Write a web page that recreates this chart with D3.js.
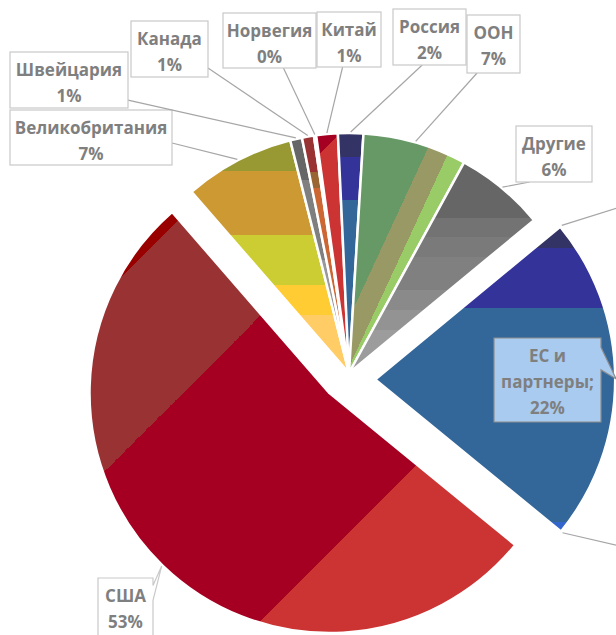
<!DOCTYPE html>
<html><head><meta charset="utf-8">
<script src="https://cdn.jsdelivr.net/npm/d3@7"></script>
<style>html,body{margin:0;padding:0;background:#fff;}svg{display:block}</style>
</head><body>
<svg id="chart" width="616" height="635"></svg>
<script>
// ---------- DATA ----------
const categories = ["Великобритания","Швейцария","Канада","Норвегия","Китай","Россия","ООН","Другие","ЕС и партнеры","США"];
const values = [7.45, 0.8, 0.8, 0.15, 1.45, 1.7, 7.0, 6.05, 21.9, 52.7];

// ---------- STYLE / LAYOUT ----------
const C = [349, 373], R = 240, startDeg = -41;
const explode = {"ЕС и партнеры": {dist: 27, angle: 104}, "США": {dist: 28}};
// banded gradient fills: u = direction, from = start projection, bands = [colour, end projection]
const fills = {
  "Великобритания": {u:[0,1], from:130, bands:[["#999933",171],["#CC9933",235],["#CCCC33",285],["#FFCC33",315],["#FFCC66",380]]},
  "Швейцария": {u:[0,1], from:130, bands:[["#666666",180],["#7F7F7F",260],["#999999",380]]},
  "Канада": {u:[0,1], from:130, bands:[["#993333",172],["#996633",188],["#CC6633",380]]},
  "Норвегия": {u:[0,1], from:130, bands:[["#993333",380]]},
  "Китай": {u:[1,1], from:440, bands:[["#A50021",474],["#CC3333",760]]},
  "Россия": {u:[0,1], from:130, bands:[["#333366",157],["#333399",200],["#336699",380]]},
  "ООН": {u:[0.905,0.42], from:300, bands:[["#669966",449.5],["#999966",470],["#99CC66",600]]},
  "Другие": {u:[0,1], from:180, bands:[["#666666",218],["#737373",237],["#7A7A7A",257],["#808080",290],["#8A8A8A",310],["#939393",330],["#9C9C9C",380]]},
  "ЕС и партнеры": {u:[0,1], from:220, bands:[["#333366",248],["#333399",308],["#336699",522],["#3366CC",625]]},
  "США": {u:[1,1], from:370, bands:[["#990000",398],["#993333",576],["#A50021",882],["#CC3333",1100]]}
};
// label boxes [x,y,w,h], attach point as fraction of box, type
const labelBoxes = {
  "Великобритания": {box:[10,110,162,55], at:[1,0.6]},
  "Швейцария": {box:[10,52,118,56], at:[1,0.86]},
  "Канада": {box:[131,21,77,56], at:[1,0.84]},
  "Норвегия": {box:[223,13,93,55], at:[0.65,1]},
  "Китай": {box:[317,12,64,55], at:[0.4,1]},
  "Россия": {box:[393,9,73,56], at:[0.4,1]},
  "ООН": {box:[467,15,53,58], at:[0.19,1]},
  "Другие": {box:[516,126,76,56], at:[0.18,1]},
  "США": {box:[98,578,55,62], callout:[[1,0.12],[1,0.36]]},
  "ЕС и партнеры": {box:[494,338,107,84], callout:[[1,0.11],[1,0.38]], fill:"#A9CBEF", stroke:"#8C8C8C", lines:["ЕС и","партнеры;"]}
};
const extraLeaders = [{name:"ЕС и партнеры", at:"start", to:[620,207]}, {name:"ЕС и партнеры", at:"end", to:[620,546]}];

// ---------- DRAW ----------
const svg = d3.select("#chart");
const defs = svg.append("defs");
const fmt = d3.format(".0%");
const total = d3.sum(values);
const data = categories.map((c,i)=>({name:c, value:values[i], pct: fmt(values[i]/total)}));
const a0 = startDeg*Math.PI/180;
const pie = d3.pie().sort(null).value(d=>d.value).startAngle(a0).endAngle(a0+2*Math.PI);
const arcs = pie(data);
const arcGen = d3.arc().innerRadius(0).outerRadius(R);

arcs.forEach((a,i)=>{
  const ex = explode[a.data.name];
  let off=[0,0];
  if(ex){
    const ang = ex.angle!=null ? ex.angle*Math.PI/180 : (a.startAngle+a.endAngle)/2;
    off=[ex.dist*Math.sin(ang), -ex.dist*Math.cos(ang)];
  }
  a.cx = C[0]+off[0]; a.cy = C[1]+off[1];
  a.mid = (a.startAngle+a.endAngle)/2;
  // gradient in slice-local user space
  const f = fills[a.data.name];
  const u = f.u, uu = u[0]*u[0]+u[1]*u[1];
  const p0 = f.from, p1 = f.bands[f.bands.length-1][1];
  const P = s => [s*u[0]/uu - a.cx, s*u[1]/uu - a.cy];
  const g = defs.append("linearGradient").attr("id","grad"+i)
    .attr("gradientUnits","userSpaceOnUse")
    .attr("x1",P(p0)[0]).attr("y1",P(p0)[1]).attr("x2",P(p1)[0]).attr("y2",P(p1)[1]);
  let prev = p0;
  f.bands.forEach(([col,end])=>{
    g.append("stop").attr("offset",(prev-p0)/(p1-p0)).attr("stop-color",col);
    g.append("stop").attr("offset",(end-p0)/(p1-p0)).attr("stop-color",col);
    prev = end;
  });
});

const slices = svg.append("g");
slices.selectAll("path").data(arcs).join("path")
  .attr("transform",a=>`translate(${a.cx},${a.cy})`)
  .attr("d",arcGen)
  .attr("fill",(a,i)=>`url(#grad${i})`)
  .attr("stroke","#fff").attr("stroke-width",2.5).attr("stroke-linejoin","round");

const arcPt = (a, ang, r) => [a.cx + r*Math.sin(ang), a.cy - r*Math.cos(ang)];

const lab = svg.append("g");
// extra leader lines (labels outside the view)
extraLeaders.forEach(e=>{
  const a = arcs.find(d=>d.data.name===e.name);
  const p = arcPt(a, e.at==="start"?a.startAngle:a.endAngle, R+2);
  lab.append("line").attr("x1",p[0]).attr("y1",p[1]).attr("x2",e.to[0]).attr("y2",e.to[1])
    .attr("stroke","#A6A6A6").attr("stroke-width",1.2);
});

arcs.forEach(a=>{
  const L = labelBoxes[a.data.name];
  const [bx,by,bw,bh] = L.box;
  const tip = arcPt(a, a.mid, R+1);
  if(L.callout){
    const q1=[bx+L.callout[0][0]*bw, by+L.callout[0][1]*bh], q2=[bx+L.callout[1][0]*bw, by+L.callout[1][1]*bh];
    const path = `M${bx},${by}H${bx+bw}V${q1[1]}L${tip[0]},${tip[1]}L${q2[0]},${q2[1]}V${by+bh}H${bx}Z`;
    lab.append("path").attr("d",path).attr("fill",L.fill||"#fff").attr("stroke",L.stroke||"#C9C9C9").attr("stroke-width",1.2);
  } else {
    const s=[bx+L.at[0]*bw, by+L.at[1]*bh];
    lab.append("line").attr("x1",s[0]).attr("y1",s[1]).attr("x2",tip[0]).attr("y2",tip[1])
      .attr("stroke","#A6A6A6").attr("stroke-width",1.2);
    lab.append("rect").attr("x",bx).attr("y",by).attr("width",bw).attr("height",bh)
      .attr("fill","#fff").attr("stroke","#C9C9C9").attr("stroke-width",1.2);
  }
  const lines = (L.lines||[a.data.name]).concat([a.data.pct]);
  lines.forEach((t,k)=>{
    lab.append("text").attr("x",bx+bw/2).attr("y",by+17+k*26)
      .attr("text-anchor","middle").attr("dominant-baseline","central")
      .attr("font-family","'Open Sans', sans-serif").attr("font-weight",700).attr("font-size",17)
      .attr("fill","#7F7F7F").text(t);
  });
});
</script>
</body></html>
